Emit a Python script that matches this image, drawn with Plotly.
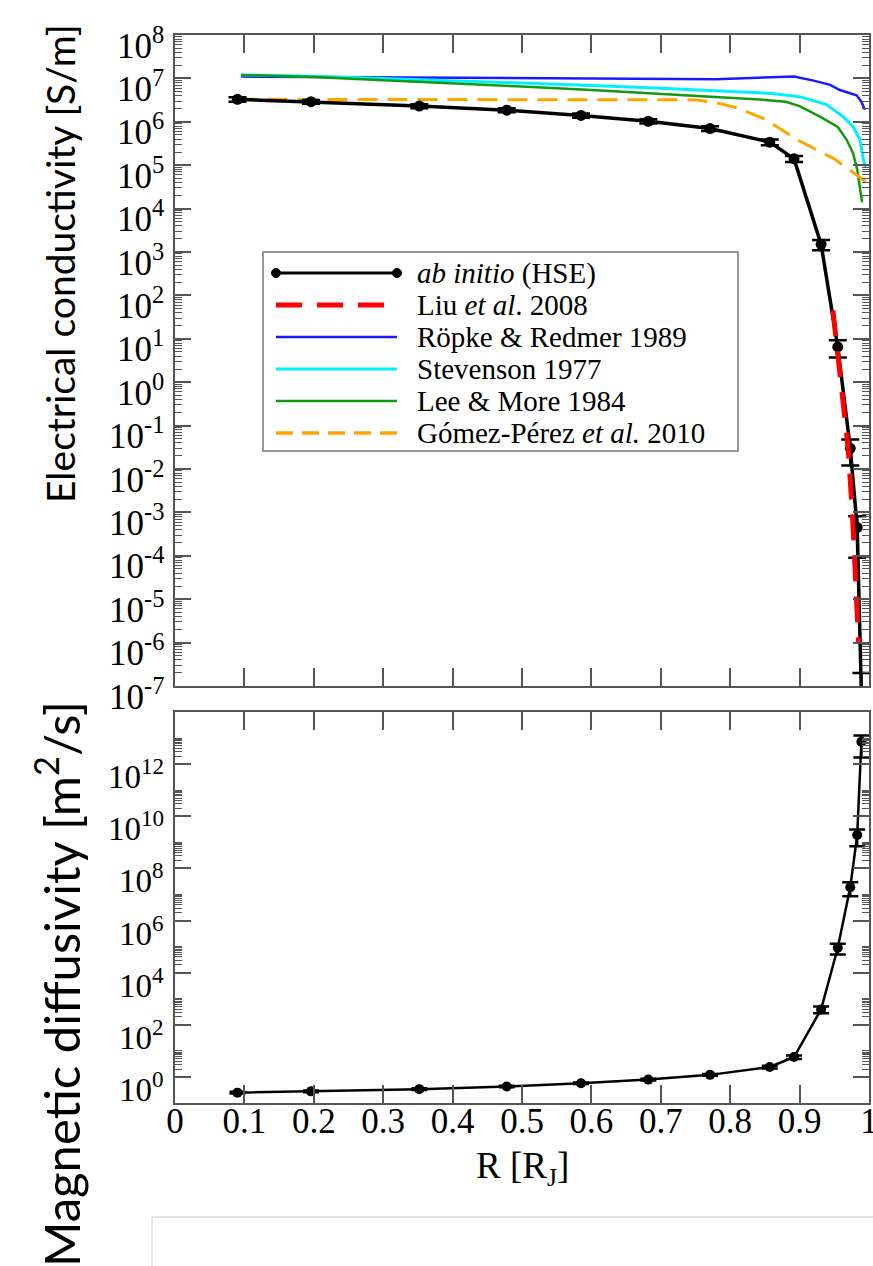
import plotly.graph_objects as go

# ---------------- data ----------------
r_abinitio = [0.090, 0.196, 0.352, 0.478, 0.585, 0.682, 0.771, 0.857, 0.892, 0.931, 0.955, 0.973, 0.983, 0.989]
sigma_abinitio = [3.3e6, 2.9e6, 2.3e6, 1.85e6, 1.4e6, 1.03e6, 7.0e5, 3.4e5, 1.4e5, 1.5e3, 6.5, 0.03, 4.5e-4, 7e-8]
sigma_err_plus = [4e5, 3e5, 2.5e5, 2e5, 1.6e5, 1.2e5, 9e4, 5e4, 2.2e4, 4e2, 2.8, 0.018, 3.6e-4, 1.3e-7]
sigma_err_minus = [4e5, 3e5, 2.5e5, 2e5, 1.6e5, 1.2e5, 9e4, 5e4, 2.2e4, 4e2, 2.8, 0.018, 3.6e-4, 1e-8]
eta_abinitio = [0.25, 0.28, 0.34, 0.43, 0.57, 0.79, 1.2, 2.4, 5.8, 390, 9e4, 1.9e7, 1.9e9, 7.2e12]
eta_err = [0.02, 0.02, 0.025, 0.03, 0.04, 0.06, 0.1, 0.3, 0.9, 115, 4e4, 1.05e7, 1.2e9, 5.4e12]

r_liu = [0.948, 0.955, 0.962, 0.970, 0.976, 0.981, 0.985]
sigma_liu = [45, 5, 0.5, 0.03, 1e-3, 3e-5, 1e-6]

r_ropke = [0.095, 0.2, 0.3, 0.4, 0.5, 0.6, 0.7, 0.78, 0.84, 0.892, 0.92, 0.944, 0.958, 0.972, 0.982, 0.989, 0.994]
sigma_ropke = [1.10e7, 1.08e7, 1.06e7, 1.05e7, 1.04e7, 1.03e7, 1.0e7, 9.6e6, 1.04e7, 1.1e7, 8.9e6, 7.1e6, 5.4e6, 4.6e6, 4.1e6, 2.9e6, 1.9e6]

r_stevenson = [0.095, 0.2, 0.3, 0.4, 0.5, 0.6, 0.7, 0.8, 0.86, 0.9, 0.939, 0.963, 0.977, 0.987, 0.992, 0.995]
sigma_stevenson = [1.2e7, 1.12e7, 1.0e7, 8.9e6, 7.9e6, 6.9e6, 5.9e6, 5.0e6, 4.5e6, 3.8e6, 2.5e6, 1.3e6, 7.8e5, 3.8e5, 1.3e5, 9e4]

r_leemore = [0.095, 0.2, 0.3, 0.4, 0.5, 0.6, 0.7, 0.8, 0.85, 0.88, 0.9, 0.93, 0.955, 0.968, 0.977, 0.983, 0.987, 0.99]
sigma_leemore = [1.2e7, 1.07e7, 9.1e6, 7.8e6, 6.5e6, 5.4e6, 4.4e6, 3.5e6, 3.2e6, 2.9e6, 2.3e6, 1.3e6, 7.6e5, 3.8e5, 1.9e5, 8e4, 3.2e4, 1.4e4]

r_gomez = [0.09, 0.2, 0.3, 0.4, 0.5, 0.6, 0.7, 0.75, 0.78, 0.81, 0.85, 0.9, 0.95, 0.995]
sigma_gomez = [3.3e6, 3.3e6, 3.3e6, 3.3e6, 3.3e6, 3.3e6, 3.3e6, 3.2e6, 2.75e6, 2.1e6, 1.15e6, 3.6e5, 1.4e5, 4.2e4]

legend_labels = ["<i>ab initio</i> (HSE)", "Liu <i>et al</i>. 2008", "Röpke & Redmer 1989",
                 "Stevenson 1977", "Lee & More 1984", "Gómez-Pérez <i>et al.</i> 2010"]

x_tick_vals = [0, 0.1, 0.2, 0.3, 0.4, 0.5, 0.6, 0.7, 0.8, 0.9, 1]
x_tick_text = ["0", "0.1", "0.2", "0.3", "0.4", "0.5", "0.6", "0.7", "0.8", "0.9", "1"]
top_exps = [8, 7, 6, 5, 4, 3, 2, 1, 0, -1, -2, -3, -4, -5, -6, -7]
bottom_exps = [0, 2, 4, 6, 8, 10, 12]

# ---------------- styling ----------------
SERIF = "Liberation Serif"
SANS = "Lato"
FRAME = "#555555"
colors = ["#000000", "#ff0000", "#1a1aff", "#00f0ff", "#119911", "#ffa500"]

L, T, W, H = 175, 35, 694, 1068   # plot area in pixels


def pxx(px):
    return (px - L) / W


def pxy(py):
    return (T + H - py) / H


fig = go.Figure()

# top panel: curves
fig.add_trace(go.Scatter(x=r_ropke, y=sigma_ropke, mode="lines",
                         line=dict(color=colors[2], width=2.5), xaxis="x", yaxis="y", showlegend=False))
fig.add_trace(go.Scatter(x=r_stevenson, y=sigma_stevenson, mode="lines",
                         line=dict(color=colors[3], width=3), xaxis="x", yaxis="y", showlegend=False))
fig.add_trace(go.Scatter(x=r_leemore, y=sigma_leemore, mode="lines",
                         line=dict(color=colors[4], width=2.5), xaxis="x", yaxis="y", showlegend=False))
fig.add_trace(go.Scatter(x=r_gomez, y=sigma_gomez, mode="lines",
                         line=dict(color=colors[5], width=3, dash="20px,10px"), xaxis="x", yaxis="y", showlegend=False))
fig.add_trace(go.Scatter(x=r_abinitio, y=sigma_abinitio, mode="lines+markers",
                         line=dict(color="black", width=3.5), marker=dict(size=11, color="black"),
                         error_y=dict(type="data", array=sigma_err_plus, arrayminus=sigma_err_minus,
                                      color="black", thickness=2.5, width=9),
                         cliponaxis=False, xaxis="x", yaxis="y", showlegend=False))
fig.add_trace(go.Scatter(x=r_liu, y=sigma_liu, mode="lines",
                         line=dict(color=colors[1], width=5, dash="26px,15px"), xaxis="x", yaxis="y", showlegend=False))

# bottom panel
fig.add_trace(go.Scatter(x=r_abinitio, y=eta_abinitio, mode="lines+markers",
                         line=dict(color="black", width=2.5), marker=dict(size=10, color="black"),
                         error_y=dict(type="data", array=eta_err, color="black", thickness=2.5, width=8),
                         xaxis="x2", yaxis="y2", showlegend=False))

axis_common = dict(showline=True, linecolor=FRAME, linewidth=2, mirror="ticks", ticks="inside",
                   tickcolor=FRAME, tickwidth=1.5, showgrid=False, zeroline=False, automargin=False)

top_minor = [k * 10.0 ** n for n in range(-7, 8) for k in range(2, 10)]
bottom_minor = [k * 10.0 ** n for n in range(-2, 14, 2) for k in range(2, 11)]

fig.update_layout(
    width=873, height=1266,
    margin=dict(l=L, r=873 - L - W, t=T, b=1266 - T - H, autoexpand=False),
    paper_bgcolor="white", plot_bgcolor="white",
    xaxis=dict(domain=[0, 1], range=[0, 1], anchor="y", tickvals=x_tick_vals, showticklabels=False,
               ticklen=18, **axis_common),
    yaxis=dict(domain=[pxy(686), 1], type="log", range=[-7, 8], anchor="x",
               tickvals=[10.0 ** e for e in top_exps], showticklabels=False, ticklen=16,
               minor=dict(tickvals=top_minor, ticklen=7, ticks="inside", tickcolor=FRAME, tickwidth=1),
               **axis_common),
    xaxis2=dict(domain=[0, 1], range=[0, 1], anchor="y2", tickvals=x_tick_vals, ticktext=x_tick_text,
                ticklen=18, tickfont=dict(family=SERIF, size=35, color="black"), ticklabelstandoff=-14,
                ticklabeloverflow="allow", **axis_common),
    yaxis2=dict(domain=[0, pxy(712)], type="log", range=[-1, 14], anchor="x2",
                tickvals=[10.0 ** e for e in bottom_exps], showticklabels=False, ticklen=16,
                minor=dict(tickvals=bottom_minor, ticklen=7, ticks="inside", tickcolor=FRAME, tickwidth=1),
                **axis_common),
)

annotations = []
# y tick labels (slightly below their ticks, as in the reference)
for e in top_exps:
    annotations.append(dict(x=0, xref="paper", y=e, yref="y", text="10<sup>%d</sup>" % e,
                            xanchor="right", yanchor="middle", xshift=-9, yshift=-8, showarrow=False,
                            font=dict(family=SERIF, size=35, color="black")))
for e in bottom_exps:
    annotations.append(dict(x=0, xref="paper", y=e, yref="y2", text="10<sup>%d</sup>" % e,
                            xanchor="right", yanchor="middle", xshift=-9, yshift=-10, showarrow=False,
                            font=dict(family=SERIF, size=33, color="black")))
# axis titles
annotations.append(dict(x=pxx(60), y=pxy(264), xref="paper", yref="paper", text="Electrical conductivity [S/m]",
                        textangle=-90, showarrow=False, xanchor="center", yanchor="middle",
                        font=dict(family=SANS, size=39, color="black")))
annotations.append(dict(x=pxx(57), y=pxy(984), xref="paper", yref="paper", text="Magnetic diffusivity [m<sup>2</sup>/s]",
                        textangle=-90, showarrow=False, xanchor="center", yanchor="middle",
                        font=dict(family=SANS, size=49, color="black")))
annotations.append(dict(x=0.5, y=pxy(1168), xref="paper", yref="paper", text="R [R<sub>J</sub>]",
                        showarrow=False, xanchor="center", yanchor="middle",
                        font=dict(family=SERIF, size=37, color="black")))

# legend (drawn by hand to match the long sample lines)
shapes = []
shapes.append(dict(type="rect", xref="paper", yref="paper", x0=pxx(263), x1=pxx(738), y0=pxy(451), y1=pxy(252),
                   line=dict(color="#777777", width=1.5), fillcolor="white", layer="above"))
rows = [273, 305, 337, 369, 401, 433]
styles = [dict(width=3), dict(width=5, dash="26px,15px"), dict(width=2.5), dict(width=3), dict(width=2.5),
          dict(width=3.5, dash="17px,9px")]
for i, (row, lab) in enumerate(zip(rows, legend_labels)):
    st = dict(styles[i])
    st["color"] = colors[i]
    shapes.append(dict(type="line", xref="paper", yref="paper", x0=pxx(276), x1=pxx(397),
                       y0=pxy(row), y1=pxy(row), line=st, layer="above"))
    annotations.append(dict(x=pxx(415), y=pxy(row), xref="paper", yref="paper", text=lab, showarrow=False,
                            xanchor="left", yanchor="middle", font=dict(family=SERIF, size=29, color="black")))
for cx in (276, 397):
    shapes.append(dict(type="circle", xref="paper", yref="paper", x0=pxx(cx - 4.5), x1=pxx(cx + 4.5),
                       y0=pxy(rows[0] + 4.5), y1=pxy(rows[0] - 4.5), fillcolor="black",
                       line=dict(color="black", width=1), layer="above"))
# empty box at the bottom of the slide
shapes.append(dict(type="rect", xref="paper", yref="paper", x0=pxx(152), x1=pxx(900), y0=pxy(1300), y1=pxy(1217),
                   line=dict(color="#cccccc", width=1), fillcolor="rgba(0,0,0,0)"))

fig.update_layout(annotations=annotations, shapes=shapes)

fig.write_html("out.html")
